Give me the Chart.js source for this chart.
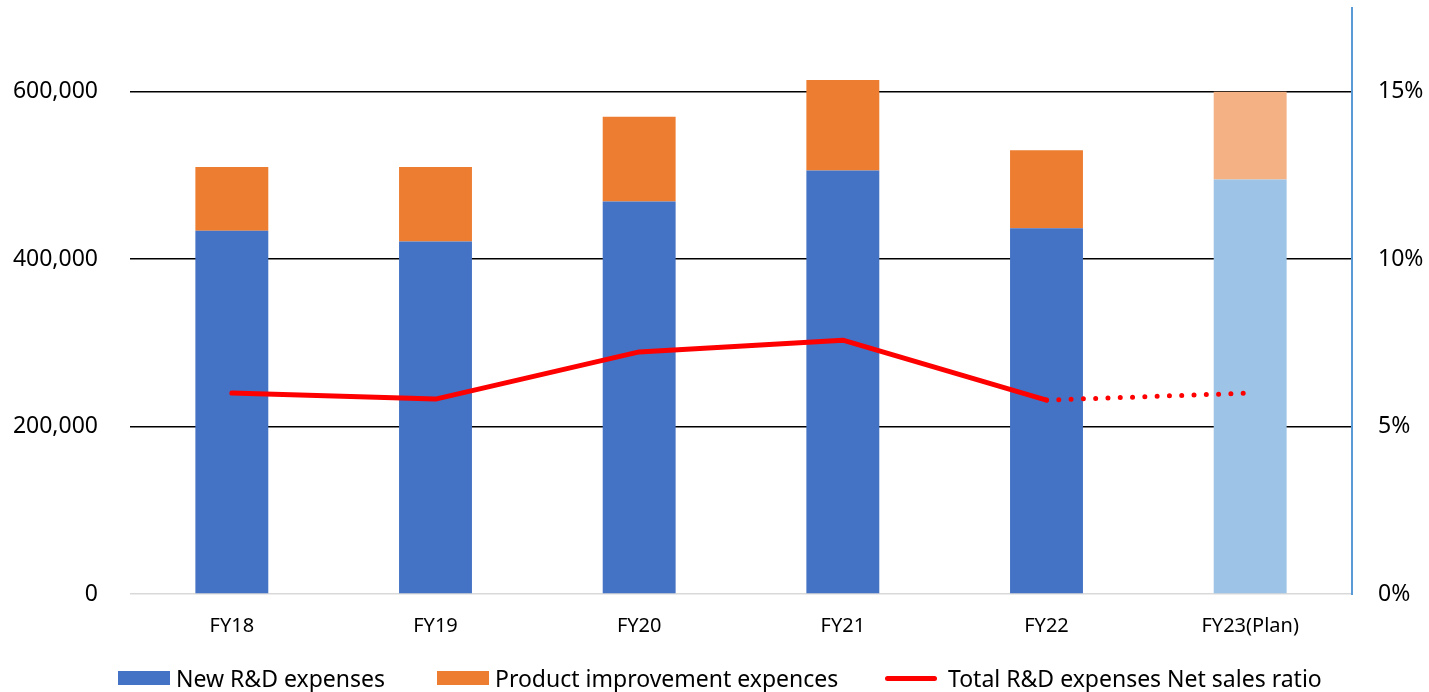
<!DOCTYPE html>
<html>
<head>
<meta charset="utf-8">
<script src="https://cdn.jsdelivr.net/npm/chart.js@4"></script>
<style>
  html, body { margin: 0; padding: 0; background: #fff; }
  #wrap { position: relative; width: 1429px; height: 692px; }
  #chart { position: absolute; left: 0; top: 0; }
  #legend { position: absolute; left: 0; top: 664px; width: 1429px; height: 28px;
            font-family: "Noto Sans", sans-serif; font-size: 23px; color: #000; }
  .item { position: absolute; top: 0; display: flex; align-items: center; white-space: nowrap; line-height: 28px; }
  .swatch { width: 52px; height: 14px; margin-right: 6px; }
  .lineswatch { width: 52px; height: 5px; border-radius: 3px; margin-right: 11px; }
</style>
</head>
<body>
<div id="wrap">
  <canvas id="chart" width="1429" height="692"></canvas>
  <div id="legend"></div>
</div>
<script>
// Fiscal years shown on the category axis
const categories = ['FY18', 'FY19', 'FY20', 'FY21', 'FY22', 'FY23(Plan)'];

// R&D spending (left axis)
const newRDExpenses = [434000, 421000, 469000, 506000, 437000, 495000];
const productImprovement = [76000, 89000, 101000, 108000, 93000, 105000];

// Total R&D expenses as % of net sales (right axis)
const netSalesRatio = [6.0, 5.82, 7.23, 7.58, 5.79, 6.0];

// Tick values for both value axes
const amountTicks = [0, 200000, 400000, 600000];
const ratioTicks = [0, 5, 10, 15];

const seriesNames = ['New R&D expenses', 'Product improvement expences', 'Total R&D expenses Net sales ratio'];

// The plan year uses lighter tints
const planIndex = categories.length - 1;
const blueFill = categories.map((_, i) => i === planIndex ? '#9DC3E6' : '#4472C4');
const orangeFill = categories.map((_, i) => i === planIndex ? '#F4B183' : '#ED7D31');

const FONT = '"Noto Sans", sans-serif';

// Vertical axes should not push the plot area down for their label padding
const noVerticalPadding = s => { s.paddingTop = 0; s.paddingBottom = 0; };

const chart = new Chart(document.getElementById('chart'), {
  data: {
    labels: categories,
    datasets: [
      {
        type: 'line',
        label: seriesNames[2],
        data: netSalesRatio,
        yAxisID: 'y1',
        borderColor: '#FF0000',
        borderWidth: 5,
        borderCapStyle: 'round',
        borderJoinStyle: 'round',
        pointRadius: 0,
        pointHoverRadius: 0,
        tension: 0,
        order: 0,
        segment: {
          borderDash: ctx => ctx.p0DataIndex === planIndex - 1 ? [0, 12.3] : undefined
        }
      },
      {
        type: 'bar',
        label: seriesNames[0],
        data: newRDExpenses,
        backgroundColor: blueFill,
        yAxisID: 'y',
        stack: 'rd',
        barPercentage: 0.358,
        categoryPercentage: 1,
        order: 1
      },
      {
        type: 'bar',
        label: seriesNames[1],
        data: productImprovement,
        backgroundColor: orangeFill,
        yAxisID: 'y',
        stack: 'rd',
        barPercentage: 0.358,
        categoryPercentage: 1,
        order: 1
      }
    ]
  },
  options: {
    responsive: false,
    animation: false,
    layout: { padding: { top: 8, bottom: 48, left: 0, right: 0 } },
    plugins: { legend: { display: false }, tooltip: { enabled: false } },
    scales: {
      x: {
        stacked: true,
        grid: { display: false, drawTicks: false },
        border: { display: false },
        ticks: { color: '#000', font: { family: FONT, size: 20 }, padding: 20 },
        afterFit: s => { s.height = 50; }
      },
      y: {
        position: 'left',
        stacked: true,
        min: 0,
        max: 700000,
        afterBuildTicks: s => { s.ticks = amountTicks.map(v => ({ value: v })); },
        ticks: {
          includeBounds: false,
          color: '#000',
          font: { family: FONT, size: 23 },
          padding: 32,
          callback: v => v.toLocaleString('en-US')
        },
        grid: {
          drawTicks: false,
          lineWidth: 1.6,
          color: ctx => ctx.tick && ctx.tick.value === 0 ? '#D9D9D9' : '#000000'
        },
        border: { display: false },
        afterFit: s => { s.width = 130; noVerticalPadding(s); }
      },
      y1: {
        position: 'right',
        min: 0,
        max: 17.5,
        afterBuildTicks: s => { s.ticks = ratioTicks.map(v => ({ value: v })); },
        ticks: {
          includeBounds: false,
          color: '#000',
          font: { family: FONT, size: 23 },
          padding: 26,
          callback: v => v + '%'
        },
        grid: { display: false, drawTicks: false },
        border: { display: true, color: '#5B9BD5', width: 2 },
        afterFit: s => { s.width = 77; noVerticalPadding(s); }
      }
    }
  }
});

// Legend row under the chart
const legendItems = [
  { name: seriesNames[0], kind: 'box', color: '#4472C4', left: 118 },
  { name: seriesNames[1], kind: 'box', color: '#ED7D31', left: 437 },
  { name: seriesNames[2], kind: 'line', color: '#FF0000', left: 885 }
];
const legend = document.getElementById('legend');
legendItems.forEach(it => {
  const el = document.createElement('div');
  el.className = 'item';
  el.style.left = it.left + 'px';
  const sw = document.createElement('span');
  sw.className = it.kind === 'box' ? 'swatch' : 'lineswatch';
  sw.style.background = it.color;
  const tx = document.createElement('span');
  tx.textContent = it.name;
  el.appendChild(sw);
  el.appendChild(tx);
  legend.appendChild(el);
});
</script>
</body>
</html>
